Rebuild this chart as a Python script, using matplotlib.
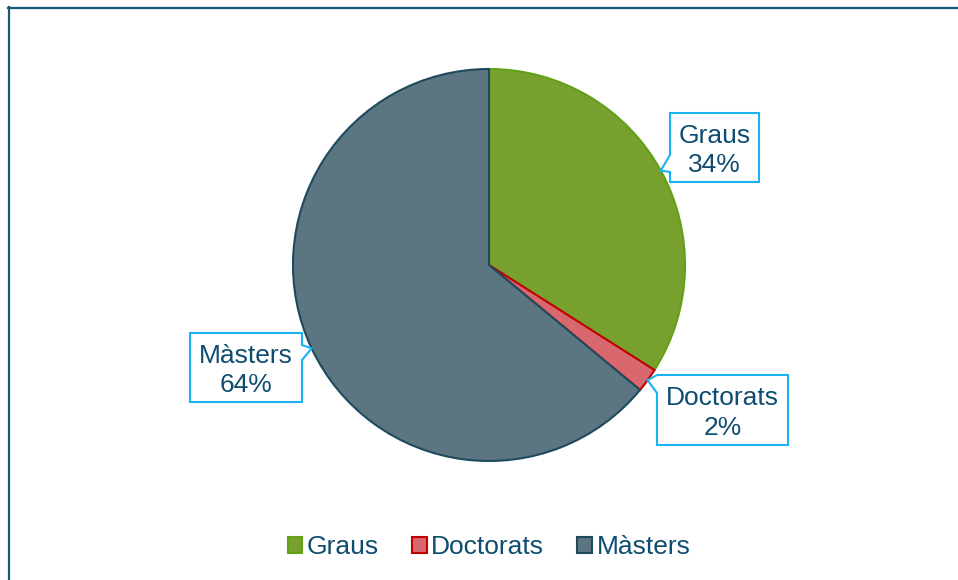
import matplotlib
matplotlib.use('Agg')
import matplotlib.pyplot as plt
import numpy as np
from matplotlib.patches import Polygon, Patch
from matplotlib.lines import Line2D

# ---- data ----
categories = ['Graus', 'Doctorats', 'Màsters']
values = [34, 2, 64]

# ---- styles ----
fills = ['#78A02F', '#D9676E', '#5B7581']
edges = ['#62A015', '#C00000', '#1F4A5E']
text_color = '#0E4C70'
callout_color = '#1AB2F0'
frame_color = '#1B5877'

W, H = 958, 580
plt.rcParams['font.family'] = ['Liberation Sans', 'DejaVu Sans']
FS = 19

fig = plt.figure(figsize=(W / 100, H / 100), dpi=100)
ax = fig.add_axes([0, 0, 1, 1])

cx, cy, R = 489, H - 265, 196
wedges, _ = ax.pie(values, startangle=90, counterclock=False, center=(cx, cy),
                   radius=R, colors=fills, wedgeprops=dict(linewidth=1.5),
                   frame=True)
for w, e in zip(wedges, edges):
    w.set_edgecolor(e)

ax.set_xlim(0, W)
ax.set_ylim(0, H)
ax.set_aspect('equal')
ax.axis('off')

# callout layout (top-down pixel coords): box, pointer side, pointer base
layout = {
    'Graus': dict(box=(670, 113, 759, 182), side='left', base=(155, 172)),
    'Doctorats': dict(box=(657, 375, 788, 445), side='left', base=(375, 393)),
    'Màsters': dict(box=(190, 333, 302, 402), side='right', base=(345, 360)),
}

total = sum(values)
for w, cat, v in zip(wedges, categories, values):
    mid = np.deg2rad((w.theta1 + w.theta2) / 2)
    tip = (cx + R * np.cos(mid), cy + R * np.sin(mid))
    L = layout[cat]
    x0, y0, x1, y1 = L['box']
    b1, b2 = L['base']
    Y0, Y1, B1, B2 = H - y0, H - y1, H - b1, H - b2
    if L['side'] == 'left':
        verts = [(x0, Y0), (x1, Y0), (x1, Y1), (x0, Y1), (x0, B2), tip, (x0, B1)]
    else:
        verts = [(x0, Y0), (x1, Y0), (x1, B1), tip, (x1, B2), (x1, Y1), (x0, Y1)]
    ax.add_patch(Polygon(verts, closed=True, facecolor='white',
                         edgecolor=callout_color, linewidth=1.5, zorder=5))
    pct = round(v / total * 100)
    ax.text((x0 + x1) / 2, (Y0 + Y1) / 2 - 3, f'{cat}\n{pct}%', ha='center',
            va='center', fontsize=FS, color=text_color, linespacing=1.3,
            zorder=6)

handles = [Patch(facecolor=f, edgecolor=e, linewidth=1.5, label=c)
           for f, e, c in zip(fills, edges, categories)]
fig.legend(handles=handles, loc='center', bbox_to_anchor=(489 / W, 1 - 547 / H),
           ncol=3, frameon=False, fontsize=FS, handlelength=0.55,
           handleheight=0.55, handletextpad=0.18, columnspacing=1.25,
           labelcolor=text_color)

# partial outer frame (top and left)
fig.add_artist(Line2D([8 / W, 1], [1 - 7.7 / H] * 2, transform=fig.transFigure,
                      color=frame_color, lw=1.6))
fig.add_artist(Line2D([9 / W] * 2, [1 - 7 / H, 0], transform=fig.transFigure,
                      color=frame_color, lw=1.6))

fig.savefig('out.png', dpi=100)
